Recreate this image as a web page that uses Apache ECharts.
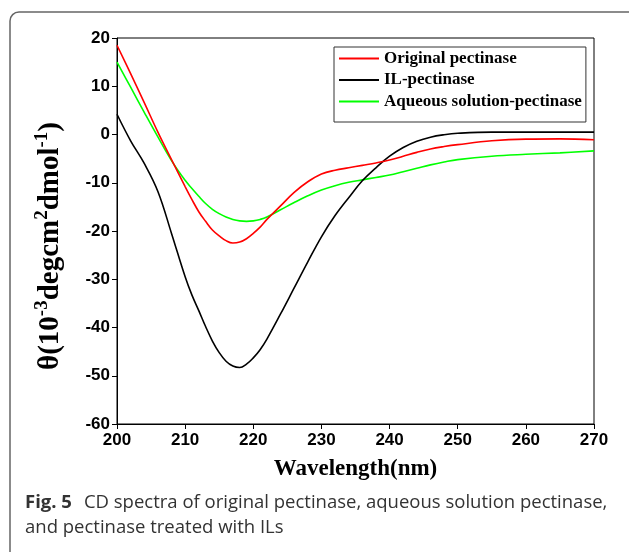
<!DOCTYPE html>
<html>
<head>
<meta charset="utf-8">
<script src="https://cdn.jsdelivr.net/npm/echarts@6/dist/echarts.min.js"></script>
<style>
  html, body { margin: 0; padding: 0; background: #fff; }
  #chart { width: 629px; height: 552px; }
</style>
</head>
<body>
<div id="chart"></div>
<script>
// wavelength grid (nm), shared by all three spectra
const wavelengths = [200, 202, 204, 206, 208, 210, 211, 212, 213, 214, 215, 216, 217, 218, 219, 220, 221, 222,
  224, 226, 228, 230, 232, 234, 236, 238, 240, 242, 244, 246, 248, 250, 255, 260, 265, 270];

const originalPectinase = [18.5, 12.6, 6.6, 0.5, -5.2, -10.8, -13.5, -16, -18, -19.8, -21, -22, -22.5, -22.3, -21.6, -20.5, -19.2, -17.6,
  -14.8, -12, -9.8, -8.2, -7.4, -6.9, -6.4, -5.9, -5.3, -4.5, -3.7, -3.0, -2.5, -2.1, -1.3, -0.95, -0.9, -1.1];

const ilPectinase = [4.2, -1.3, -6, -11.8, -20.5, -29.5, -33.3, -36.5, -39.8, -42.8, -45.2, -47, -48.0, -48.3, -47.6, -46.3, -44.6, -42.4,
  -37.2, -31.8, -26.4, -21.2, -16.8, -13.1, -9.6, -6.9, -4.5, -2.7, -1.4, -0.55, -0.05, 0.25, 0.5, 0.5, 0.5, 0.5];

const aqueousPectinase = [15, 9.8, 4.6, -0.5, -5.4, -9.5, -11.2, -12.8, -14.3, -15.5, -16.4, -17.1, -17.6, -17.9, -18.0, -17.9, -17.6, -17.1,
  -15.6, -14.1, -12.7, -11.5, -10.6, -9.9, -9.4, -8.9, -8.4, -7.7, -7.0, -6.3, -5.7, -5.2, -4.5, -4.1, -3.8, -3.4];

const seriesNames = ['Original pectinase', 'IL-pectinase', 'Aqueous solution-pectinase'];
const seriesColors = ['#ff0000', '#000000', '#00ff00'];
const seriesValues = [originalPectinase, ilPectinase, aqueousPectinase];

const chart = echarts.init(document.getElementById('chart'), null, { renderer: 'canvas' });

const series = seriesNames.map((name, i) => ({
  name,
  type: 'line',
  data: wavelengths.map((w, j) => [w, seriesValues[i][j]]),
  smooth: 0.4,
  symbol: 'none',
  showSymbol: false,
  lineStyle: { width: 1.6, color: seriesColors[i] },
  itemStyle: { color: seriesColors[i] },
  z: 3 - i,
}));

const serif = '"Liberation Serif", "Times New Roman", serif';
const sans = '"Liberation Sans", Arial, sans-serif';

chart.setOption({
  backgroundColor: '#fff',
  animation: false,
  grid: {
    left: 117, right: 35, top: 38, bottom: 128,
    show: true, borderColor: '#000', borderWidth: 1,
  },
  legend: {
    data: seriesNames,
    orient: 'vertical',
    left: 334, top: 47,
    padding: [3, 4, 12, 5],
    itemGap: 4.5,
    icon: 'rect',
    itemWidth: 40, itemHeight: 2,
    borderColor: '#333', borderWidth: 1,
    backgroundColor: '#fff',
    textStyle: { fontFamily: serif, fontWeight: 'bold', fontSize: 17, lineHeight: 17, color: '#000' },
  },
  xAxis: {
    type: 'value',
    min: 200, max: 270, interval: 10,
    name: 'Wavelength(nm)',
    nameLocation: 'middle',
    nameGap: 34,
    nameTextStyle: { fontFamily: serif, fontWeight: 'bold', fontSize: 23, color: '#000' },
    axisLine: { show: true, onZero: false, lineStyle: { color: '#000', width: 1 } },
    axisTick: { show: true, inside: false, length: 5, lineStyle: { color: '#000' } },
    axisLabel: { fontFamily: sans, fontWeight: 'bold', fontSize: 17, color: '#000', margin: 8 },
    splitLine: { show: false },
  },
  yAxis: {
    type: 'value',
    min: -60, max: 20, interval: 10,
    name: '{t|θ(10}{s|-3}{t|degcm}{s|2}{t|dmol}{s|-1}{t|)}',
    nameLocation: 'middle',
    nameRotate: 90,
    nameGap: 52,
    nameTextStyle: {
      padding: [0, 30, 0, 0],
      rich: {
        t: { fontFamily: serif, fontWeight: 'bold', fontSize: 29, color: '#000', lineHeight: 32, verticalAlign: 'bottom' },
        s: { fontFamily: serif, fontWeight: 'bold', fontSize: 19, color: '#000', lineHeight: 32, verticalAlign: 'top' },
      },
    },
    axisLine: { show: true, lineStyle: { color: '#000', width: 1 } },
    axisTick: { show: true, inside: false, length: 5, lineStyle: { color: '#000' } },
    axisLabel: { fontFamily: sans, fontWeight: 'bold', fontSize: 17, color: '#000', margin: 7 },
    splitLine: { show: false },
  },
  graphic: [
    {
      type: 'rect',
      shape: { x: 10, y: 12, width: 660, height: 600, r: 9 },
      style: { fill: 'none', stroke: '#666', lineWidth: 1.5 },
      silent: true,
      z: -10,
    },
    {
      type: 'text',
      left: 25, top: 493,
      style: {
        text: '{b|Fig. 5}{n|CD spectra of original pectinase, aqueous solution pectinase,}',
        rich: {
          b: { fontFamily: '"Open Sans", sans-serif', fontWeight: 'bold', fontSize: 18.5, fill: '#333', padding: [0, 12, 0, 0] },
          n: { fontFamily: '"Open Sans", sans-serif', fontSize: 18.5, fill: '#333' },
        },
      },
    },
    {
      type: 'text',
      left: 25, top: 518,
      style: {
        text: 'and pectinase treated with ILs',
        fontFamily: '"Open Sans", sans-serif', fontSize: 18.5, fill: '#333',
      },
    },
  ],
  series,
});
</script>
</body>
</html>
